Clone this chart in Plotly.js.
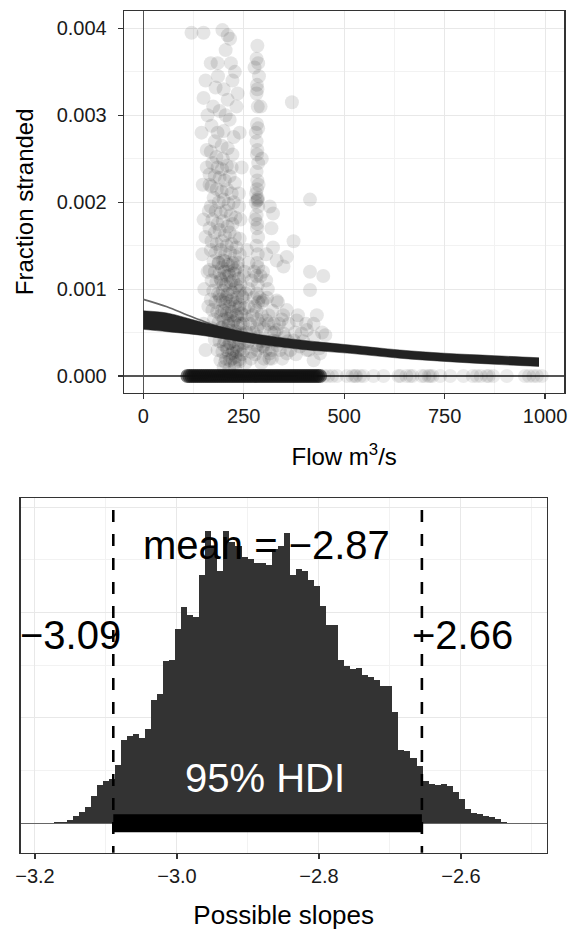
<!DOCTYPE html>
<html>
<head>
<meta charset="utf-8">
<script src="https://cdn.plot.ly/plotly-3.0.1.min.js"></script>
<style>html,body{margin:0;padding:0;background:#fff;}#chart{width:573px;height:938px;}</style>
</head>
<body>
<div id="chart"></div>
<script>
// ---------- Top panel data ----------
const posFlow = [120,150,197,210,216,205,218,186,222,180,200,210,235,174,190,205,215,170,185,200,225,178,195,210,168,182,198,222,185,
 172,185,196,208,220,165,178,190,203,215,228,170,183,195,208,220,175,188,200,212,225,238,168,180,193,206,218,230,172,185,198,210,222,165,178,190,203,215,228,240,170,183,196,208,220,232,
 168,180,192,204,216,228,240,175,187,199,211,223,235,165,178,190,202,214,226,238,250,170,182,194,206,218,230,242,174,186,198,210,222,234,246,168,180,192,204,216,228,240,252,172,184,196,208,220,232,244,176,188,200,212,224,236,248,170,182,194,206,218,230,242,178,190,202,214,226,238,250,185,197,209,221,233,245,192,204,216,228,240,200,214,228,
 282,283,284,282,285,283,286,282,284,283,286,282,284,283,285,284,286,282,284,283,286,282,285,283,286,282,285,283,286,282,284,283,286,282,284,277,288,292,295,
 319,323,374,357,349,415,448,415,424,453,315,306,332,357,382,407,349,390,424,315,332,299,306,323,357,374,394,407,440,299,370,415,323,306,332,
 145,148,150,147,152,150,155,158,160,162,155,
 188,196,204,212,220,228,236,192,200,208,216,224,232,240,190,198,206,214,222,230,238,194,202,210,218,226,234,242,196,204,212,220,228,236,244,200,208,216,224,232,240,206,214,222,230,238,
 255,262,258,265,260,268,272,275,270,290,295,300,292,305,298,310,312,318,325,330,340,345,300,320,360,252,258,262,
 155,160,158,165,163,240,245,238,242,232,228,168,150,
 280,281,285,279,287,280,286,284,
 248,252,256,250,254,262,266,262,268,276,278,274,278,292,296,290,298,294,308,312,306,314,322,326,320,335,338,334,348,352,346,362,366,378,385,380,398,405,412,425,432,438,445];
const posFrac = [.00395,.00395,.00398,.00392,.00388,.00375,.0036,.00345,.0034,.00332,.0033,.00318,.00325,.0031,.00305,.0030,.00295,.00288,.0028,.00282,.00275,.0027,.00265,.00262,.00258,.00252,.0025,.00255,.0036,
 .00245,.0024,.00238,.00242,.0024,.00232,.0023,.00228,.00225,.0023,.00222,.00218,.00215,.00212,.00215,.0021,.00205,.002,.00203,.00198,.002,.00195,.00195,.0019,.00188,.0019,.00185,.00182,.0018,.00175,.00178,.00172,.00175,.0017,.00165,.00168,.00162,.00165,.0016,.00158,.00155,.00152,.00155,.0015,.00152,.00148,
 .00145,.00142,.00145,.0014,.00142,.00138,.0014,.00132,.0013,.00133,.00128,.0013,.00125,.00122,.0012,.00118,.0012,.00116,.00118,.00112,.00115,.0011,.00108,.0011,.00105,.00108,.00102,.00105,.00098,.00095,.00098,.00094,.00096,.0009,.00092,.00088,.00085,.00088,.00084,.00086,.0008,.00082,.00078,.00076,.00074,.00076,.00072,.00074,.0007,.00072,.00065,.00062,.00065,.0006,.00062,.00058,.0006,.00055,.00052,.00055,.0005,.00052,.00048,.0005,.00042,.0004,.00042,.00038,.0004,.00036,.00038,.0003,.00028,.0003,.00026,.00028,.00025,.00018,.00016,.00018,.00015,.00017,.0001,.00008,.0001,
 .00365,.00335,.0033,.00325,.0031,.0029,.00285,.0027,.0026,.00255,.00245,.00235,.00225,.00215,.00205,.00202,.00195,.00185,.00175,.0017,.0016,.0015,.0014,.0013,.00125,.00115,.00105,.00095,.00085,.00075,.00065,.00055,.00045,.00035,.0003,.00355,.00345,.0031,.0025,
 .0017,.00148,.00155,.00137,.00126,.0012,.00115,.00099,.0006,.00047,.00195,.0011,.00087,.00076,.00064,.00053,.00049,.00034,.00018,.00026,.00053,.00087,.00064,.00041,.00026,.00041,.00049,.0003,.00026,.00034,.00315,.00203,.00187,.0014,.00133,
 .0028,.0022,.0018,.0014,.001,.0006,.0003,.0024,.0012,.0008,.0016,
 .0013,.00125,.00132,.0012,.00127,.00122,.0013,.00112,.00105,.00115,.001,.0011,.00104,.00098,.00092,.00086,.0009,.0008,.00088,.00084,.00078,.0007,.00075,.00066,.0007,.00064,.00068,.0006,.00056,.0005,.00058,.00046,.00052,.00044,.00048,.00036,.00033,.00038,.0003,.00034,.0003,.0002,.00024,.0002,.00022,.00019,
 .00095,.0008,.00065,.0005,.00038,.00028,.0007,.0009,.0011,.0009,.0007,.00055,.0004,.0003,.0012,.001,.0007,.0005,.0006,.0004,.0003,.00065,.0002,.0002,.0004,.0012,.00145,.0013,
 .0034,.003,.0026,.0022,.0019,.0028,.0024,.0021,.0018,.0031,.0035,.0036,.0032,
 .002,.0021,.00203,.0018,.0022,.0028,.0036,.0038,
 .0009,.0007,.0005,.0003,.00015,.001,.0006,.0004,.0002,.0012,.0008,.0005,.00025,.00115,.00085,.0006,.00035,.00015,.0009,.0006,.0004,.0002,.00075,.0005,.0003,.00085,.0006,.00035,.0007,.00045,.0002,.0006,.0003,.0005,.0007,.00025,.0004,.0006,.0003,.00045,.0007,.00032,.0005];
const zeroFlowDense = [110,115,120,125,130,135,140,145,150,155,160,165,170,175,180,185,190,195,200,205,210,215,220,225,230,235,240,245,250,255,260,265,270,275,280,285,290,295,300,305,310,315,320,325,330,335,340,345,350,355,360,365,370,375,380,385,390,395,400,405,410,415,420,425,430,435,440];
const zeroFlowSparse = [450,460,470,482,507,520,527,530,540,548,573,598,635,640,655,664,670,693,700,710,714,720,739,764,797,820,830,840,855,860,871,905,950,960,971,980,992];
const bandFlow  = [0,59,142,266,391,515,639,750,875,985];
const bandUpper = [0.00075,0.000725,0.000625,0.000495,0.000414,0.000357,0.000299,0.000262,0.000234,0.00021];
const bandLower = [0.000537,0.00051,0.00047,0.00038,0.000307,0.000261,0.000204,0.000168,0.000135,0.00011];
const greyFlow = [0,59,109,142,175,215,300,400,500,700,980];
const greyFrac = [0.000882,0.000797,0.000702,0.000644,0.000587,0.00053,0.00045,0.00039,0.00034,0.00026,0.00017];

// ---------- Bottom panel data ----------
const slopeBins = [-3.1683,-3.1598,-3.1513,-3.1428,-3.1343,-3.1258,-3.1173,-3.1088,-3.1003,-3.0918,-3.0833,-3.0748,-3.0663,-3.0578,-3.0493,-3.0408,-3.0323,-3.0238,-3.0153,-3.0068,-2.9983,-2.9898,-2.9813,-2.9728,-2.9643,-2.9558,-2.9473,-2.9388,-2.9303,-2.9218,-2.9133,-2.9048,-2.8963,-2.8878,-2.8793,-2.8708,-2.8623,-2.8538,-2.8453,-2.8368,-2.8283,-2.8198,-2.8113,-2.8028,-2.7943,-2.7858,-2.7773,-2.7688,-2.7603,-2.7518,-2.7433,-2.7348,-2.7263,-2.7178,-2.7093,-2.7008,-2.6923,-2.6838,-2.6753,-2.6668,-2.6583,-2.6498,-2.6413,-2.6328,-2.6243,-2.6158,-2.6073,-2.5988,-2.5903,-2.5818,-2.5733,-2.5648,-2.5563,-2.5478,-2.5393,-2.5308];
const slopeCounts = [1,1.6,3,7,11,15,26,36,40,42,55,79,83,85,81,89,117,123,154,155,184,205,198,196,236,277,261,239,277,267,263,253,251,247,247,245,260,263,275,236,241,239,231,225,206,188,188,155,149,146,147,141,139,136,130,130,106,70,69,62,54,40,37,36,37,35,30,23,14,10,8.5,7,5.7,3.8,1.3,0.6];
const binWidth = 0.0085;
const meanSlope = -2.87;
const hdiLow = -3.0897;
const hdiHigh = -2.655;
const meanLabel = "mean = \u22122.87";
const hdiLowLabel = "\u22123.09";
const hdiHighLabel = "\u22122.66";
const hdiLabel = "95% HDI";

const FONT = "Liberation Sans, Arial, Helvetica, sans-serif";
const W = 573, H = 938;
const fx = p => p / W, fy = p => 1 - p / H;

const traces = [
  {type:'scatter', mode:'markers', x: posFlow, y: posFrac, xaxis:'x', yaxis:'y',
   marker:{size:14, color:'#000', opacity:0.1, line:{width:0}}, hoverinfo:'skip'},
  {type:'scatter', mode:'markers', x: zeroFlowDense, y: zeroFlowDense.map(()=>0), xaxis:'x', yaxis:'y',
   marker:{size:14, color:'#111', opacity:0.55, line:{width:0}}, hoverinfo:'skip'},
  {type:'scatter', mode:'markers', x: zeroFlowSparse, y: zeroFlowSparse.map(()=>0), xaxis:'x', yaxis:'y',
   marker:{size:14, color:'#000', opacity:0.08, line:{width:0}}, hoverinfo:'skip'},
  {type:'scatter', mode:'lines', x: greyFlow, y: greyFrac, xaxis:'x', yaxis:'y',
   line:{color:'#666', width:1.6, shape:'spline'}, hoverinfo:'skip'},
  {type:'scatter', mode:'lines', x: bandFlow, y: bandUpper, xaxis:'x', yaxis:'y',
   line:{color:'#222', width:0.5, shape:'spline'}, hoverinfo:'skip'},
  {type:'scatter', mode:'lines', x: bandFlow, y: bandLower, xaxis:'x', yaxis:'y', fill:'tonexty', fillcolor:'#222',
   line:{color:'#222', width:0.5, shape:'spline'}, hoverinfo:'skip'},
  {type:'bar', x: slopeBins, y: slopeCounts, width: binWidth, xaxis:'x2', yaxis:'y2',
   marker:{color:'#333333', line:{width:0}}, hoverinfo:'skip'},
  {type:'scatter', mode:'lines', x:[hdiLow, hdiHigh], y:[0,0], xaxis:'x2', yaxis:'y2',
   line:{color:'#000', width:18}, hoverinfo:'skip'}
];

const axBase = {showline:true, mirror:true, linecolor:'#333', linewidth:1.3,
  ticks:'outside', ticklen:5, tickwidth:1.2, tickcolor:'#333',
  gridcolor:'#e8e8e8', gridwidth:1, zeroline:false, automargin:false,
  tickfont:{family:FONT, size:20, color:'#1a1a1a'}};

const layout = {
  width:W, height:H, margin:{l:0,r:0,t:0,b:0}, showlegend:false,
  paper_bgcolor:'#fff', plot_bgcolor:'#fff', bargap:0,
  font:{family:FONT, color:'#000'},
  xaxis: Object.assign({}, axBase, {domain:[fx(124), fx(564.3)], anchor:'y', range:[-48,1048],
    tickvals:[0,250,500,750,1000], zeroline:true, zerolinecolor:'#555', zerolinewidth:1.3,
    minor:{tickvals:[125,375,625,875], showgrid:true, gridcolor:'#f2f2f2', ticks:''},
    title:{text:'Flow m<sup>3</sup>/s', font:{family:FONT, size:24, color:'#000'}, standoff:22}}),
  yaxis: Object.assign({}, axBase, {domain:[fy(392.7), fy(11)], anchor:'x', range:[-0.000192,0.0042],
    tickvals:[0,0.001,0.002,0.003,0.004], ticktext:['0.000','0.001','0.002','0.003','0.004'],
    ticklabelstandoff:7,
    zeroline:true, zerolinecolor:'#555', zerolinewidth:1.3,
    minor:{tickvals:[0.0005,0.0015,0.0025,0.0035], showgrid:true, gridcolor:'#f2f2f2', ticks:''},
    title:{text:'Fraction stranded', font:{family:FONT, size:24, color:'#000'}, standoff:16}}),
  xaxis2: Object.assign({}, axBase, {domain:[fx(20.7), fx(546.7)], anchor:'y2', range:[-3.2201,-2.4792],
    tickvals:[-3.2,-3.0,-2.8,-2.6], ticktext:['\u22123.2','\u22123.0','\u22122.8','\u22122.6'],
    minor:{tickvals:[-3.1,-2.9,-2.7,-2.5], showgrid:true, gridcolor:'#f2f2f2', ticks:''},
    title:{text:'Possible slopes', font:{family:FONT, size:26, color:'#000'}, standoff:19}}),
  yaxis2: Object.assign({}, axBase, {domain:[fy(852.7), fy(498)], anchor:'x2', range:[-27.9,308.6],
    tickvals:[0,100,200,300], showticklabels:false, ticks:'',
    zeroline:true, zerolinecolor:'#666', zerolinewidth:1.3,
    minor:{tickvals:[50,150,250], showgrid:true, gridcolor:'#f2f2f2', ticks:''}}),
  shapes: [hdiLow, hdiHigh].map(v => ({type:'line', xref:'x2', yref:'y2 domain', x0:v, x1:v, y0:1, y1:0,
    line:{color:'#000', width:2.6, dash:'0px,12px,12px,0px'}})),
  annotations: [
    {xref:'x2', yref:'y2', x:meanSlope, y:264, xshift:-3, text:meanLabel, showarrow:false, xanchor:'center', yanchor:'middle',
     font:{family:FONT, size:40, color:'#000'}},
    {xref:'x2', yref:'y2', x:hdiLow, y:178.6, xshift:-43, text:hdiLowLabel, showarrow:false, xanchor:'center', yanchor:'middle',
     font:{family:FONT, size:40, color:'#000'}},
    {xref:'x2', yref:'y2', x:hdiHigh, y:178.6, xshift:41, text:hdiHighLabel, showarrow:false, xanchor:'center', yanchor:'middle',
     font:{family:FONT, size:40, color:'#000'}},
    {xref:'x2', yref:'y2', x:(hdiLow+hdiHigh)/2, y:43, xshift:-3, text:hdiLabel, showarrow:false, xanchor:'center', yanchor:'middle',
     font:{family:FONT, size:40, color:'#fff'}}
  ]
};

Plotly.newPlot('chart', traces, layout, {displayModeBar:false, staticPlot:true});
</script>
</body>
</html>
